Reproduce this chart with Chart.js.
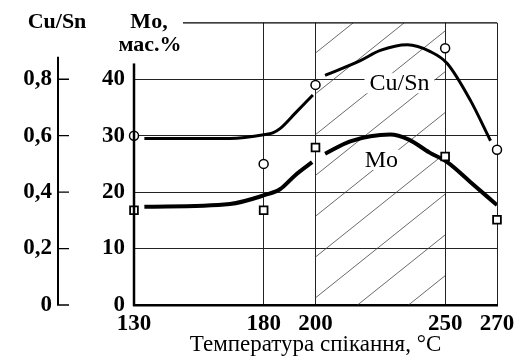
<!DOCTYPE html>
<html>
<head>
<meta charset="utf-8">
<script src="https://cdn.jsdelivr.net/npm/chart.js@4.4.1/dist/chart.umd.min.js"></script>
<style>
  html, body { margin: 0; padding: 0; background: #fff; }
</style>
</head>
<body>
<canvas id="chart" width="524" height="361"></canvas>
<script>
// sintering temperature, °C
const temps = [130, 180, 200, 250, 270];
// measured points
const cuSnValues = [0.60, 0.50, 0.78, 0.91, 0.55];
const moValues = [16.8, 16.8, 27.9, 26.3, 15.1];

// hand-drawn curves (null = the break at 200 °C)
const cuSnCurveT = [134, 167, 180.6, 183.5, 186.3, 192.2, 199, 201, 203.7, 217.3, 225, 235.4, 244.3, 250.8, 259.7, 267.5];
const cuSnCurve = [0.59, 0.59, 0.604, 0.61, 0.625, 0.68, 0.744, null, 0.814, 0.866, 0.902, 0.922, 0.898, 0.856, 0.726, 0.582];
const moCurveT = [134, 167, 180.6, 186.3, 192.2, 198.7, 201, 203.7, 213.4, 228.8, 236, 244, 250.8, 259.7, 270];
const moCurve = [17.4, 17.9, 19.5, 20.5, 23, 25.3, null, 26.8, 29, 30.2, 29.3, 27, 25.3, 21.8, 17.7];

// axis ticks
const tempTicks = [130, 180, 200, 250, 270];
const moTicks = [0, 10, 20, 30, 40, 50];
const cuSnTicks = [0, 0.2, 0.4, 0.6, 0.8];

const serif = "'Liberation Serif', serif";

function pairs(xs, ys) {
    return xs.map(function (x, i) { return { x: x, y: ys[i] }; });
}

function fmtComma(v) {
    return v === 0 ? '0' : v.toFixed(1).replace('.', ',');
}

// hatching, axis lines and free text labels
const decorations = {
    id: 'decorations',
    beforeDatasetsDraw: function (chart) {
        const ctx = chart.ctx;
        const area = chart.chartArea;
        const xs = chart.scales.x, ys = chart.scales.y;

        // hatched zone 200..250
        const x1 = xs.getPixelForValue(200), x2 = xs.getPixelForValue(250);
        ctx.save();
        ctx.beginPath();
        ctx.rect(x1, area.top, x2 - x1, area.bottom - area.top);
        ctx.clip();
        ctx.beginPath();
        ctx.strokeStyle = '#444';
        ctx.lineWidth = 0.8;
        const slope = 0.8, step = 51;
        const h = area.bottom - area.top;
        for (let bx = x1 + 42 - step * 9; bx < x2 + step; bx += step) {
            ctx.moveTo(bx, area.bottom);
            ctx.lineTo(bx + h / slope, area.top);
        }
        ctx.stroke();
        ctx.restore();

        // curve labels on white
        ctx.save();
        ctx.font = "24px " + serif;
        ctx.textAlign = 'center';
        ctx.textBaseline = 'middle';
        [['Cu/Sn', 232.4, 39.3], ['Mo', 225.4, 25.7]].forEach(function (l) {
            const px = xs.getPixelForValue(l[1]), py = ys.getPixelForValue(l[2]);
            const w = ctx.measureText(l[0]).width;
            ctx.fillStyle = '#fff';
            ctx.fillRect(px - w / 2 - 5, py - 10, w + 10, 20);
            ctx.fillStyle = '#000';
            ctx.fillText(l[0], px, py + 1);
        });
        ctx.restore();
    },
    afterDraw: function (chart) {
        const ctx = chart.ctx;
        const area = chart.chartArea;
        const ys = chart.scales.y, y2 = chart.scales.y2;
        ctx.save();
        ctx.strokeStyle = '#000';
        ctx.lineCap = 'butt';

        // blank the top-left corner, then the top frame line
        ctx.fillStyle = '#fff';
        ctx.fillRect(area.left + 1, area.top - 2, 48, 4);
        ctx.beginPath();
        ctx.lineWidth = 1.2;
        ctx.moveTo(area.left + 49, area.top);
        ctx.lineTo(area.right, area.top);
        ctx.stroke();

        // Mo axis line
        ctx.beginPath();
        ctx.lineWidth = 2.5;
        ctx.moveTo(area.left, ys.getPixelForValue(42.8));
        ctx.lineTo(area.left, area.bottom + 1);
        ctx.stroke();

        // Cu/Sn axis line with ticks pointing right
        const ax = y2.right;
        ctx.beginPath();
        ctx.lineWidth = 2;
        ctx.moveTo(ax, y2.getPixelForValue(0.88));
        ctx.lineTo(ax, y2.getPixelForValue(0));
        ctx.stroke();
        ctx.beginPath();
        ctx.lineWidth = 1.3;
        cuSnTicks.forEach(function (v) {
            const py = y2.getPixelForValue(v);
            ctx.moveTo(ax - 1, py);
            ctx.lineTo(ax + 11, py);
        });
        ctx.stroke();

        // axis headings
        ctx.fillStyle = '#000';
        ctx.textAlign = 'center';
        ctx.textBaseline = 'middle';
        ctx.font = "bold 22px " + serif;
        ctx.fillText('Cu/Sn', 57, 22);
        ctx.fillText('Mo,', 149, 22);
        ctx.fillText('мас.%', 150, 45);
        ctx.restore();
    }
};

const tickFont = { family: serif, size: 23, weight: 'bold' };

new Chart(document.getElementById('chart'), {
    type: 'line',
    data: {
        datasets: [{
            label: 'Cu/Sn points',
            data: pairs(temps, cuSnValues),
            yAxisID: 'y2',
            showLine: false,
            pointStyle: 'circle',
            pointRadius: 4.5,
            pointBackgroundColor: '#fff',
            pointBorderColor: '#000',
            pointBorderWidth: 1.5,
            clip: false
        }, {
            label: 'Mo points',
            data: pairs(temps, moValues),
            yAxisID: 'y',
            showLine: false,
            pointStyle: 'rect',
            pointRadius: 5.5,
            pointBackgroundColor: '#fff',
            pointBorderColor: '#000',
            pointBorderWidth: 1.8,
            clip: false
        }, {
            label: 'Cu/Sn',
            data: pairs(cuSnCurveT, cuSnCurve),
            yAxisID: 'y2',
            borderColor: '#000',
            borderWidth: 3,
            pointRadius: 0,
            cubicInterpolationMode: 'monotone',
            spanGaps: false
        }, {
            label: 'Mo',
            data: pairs(moCurveT, moCurve),
            yAxisID: 'y',
            borderColor: '#000',
            borderWidth: 4,
            pointRadius: 0,
            cubicInterpolationMode: 'monotone',
            spanGaps: false
        }]
    },
    options: {
        responsive: false,
        animation: false,
        layout: { padding: { top: 18, right: 27, left: 0, bottom: 0 } },
        plugins: { legend: { display: false }, tooltip: { enabled: false } },
        scales: {
            x: {
                type: 'linear',
                min: 130,
                max: 270,
                afterBuildTicks: function (s) { s.ticks = tempTicks.map(function (v) { return { value: v }; }); },
                afterFit: function (s) { s.height = 56; },
                ticks: {
                    autoSkip: false, maxRotation: 0, padding: 5,
                    color: '#000', font: tickFont
                },
                grid: {
                    drawTicks: false, lineWidth: 1,
                    color: function (c) { return c.tick && c.tick.value === 130 ? 'rgba(0,0,0,0)' : '#222'; }
                },
                border: { color: '#000', width: 2.5 },
                title: {
                    display: true,
                    text: 'Температура спікання, °C',
                    color: '#000',
                    font: { family: serif, size: 23 },
                    padding: { top: 0, bottom: 2 }
                }
            },
            y: {
                position: 'left',
                weight: 0,
                min: 0,
                max: 50,
                afterBuildTicks: function (s) { s.ticks = moTicks.map(function (v) { return { value: v }; }); },
                afterFit: function (s) { s.width = 76; },
                ticks: {
                    padding: 9, color: '#000', font: tickFont,
                    callback: function (v) { return v === 50 ? '' : String(v); }
                },
                grid: {
                    drawTicks: false, lineWidth: 1,
                    color: function (c) {
                        const v = c.tick && c.tick.value;
                        return (v === 0 || v === 50) ? 'rgba(0,0,0,0)' : '#222';
                    }
                },
                border: { display: false }
            },
            y2: {
                position: 'left',
                weight: 1,
                min: 0,
                max: 1,
                afterBuildTicks: function (s) { s.ticks = cuSnTicks.map(function (v) { return { value: v }; }); },
                afterFit: function (s) { s.width = 58; },
                ticks: {
                    padding: 6, color: '#000', font: tickFont,
                    callback: function (v) { return fmtComma(v); }
                },
                grid: { display: false, drawTicks: false },
                border: { display: false }
            }
        }
    },
    plugins: [decorations]
});
</script>
</body>
</html>
